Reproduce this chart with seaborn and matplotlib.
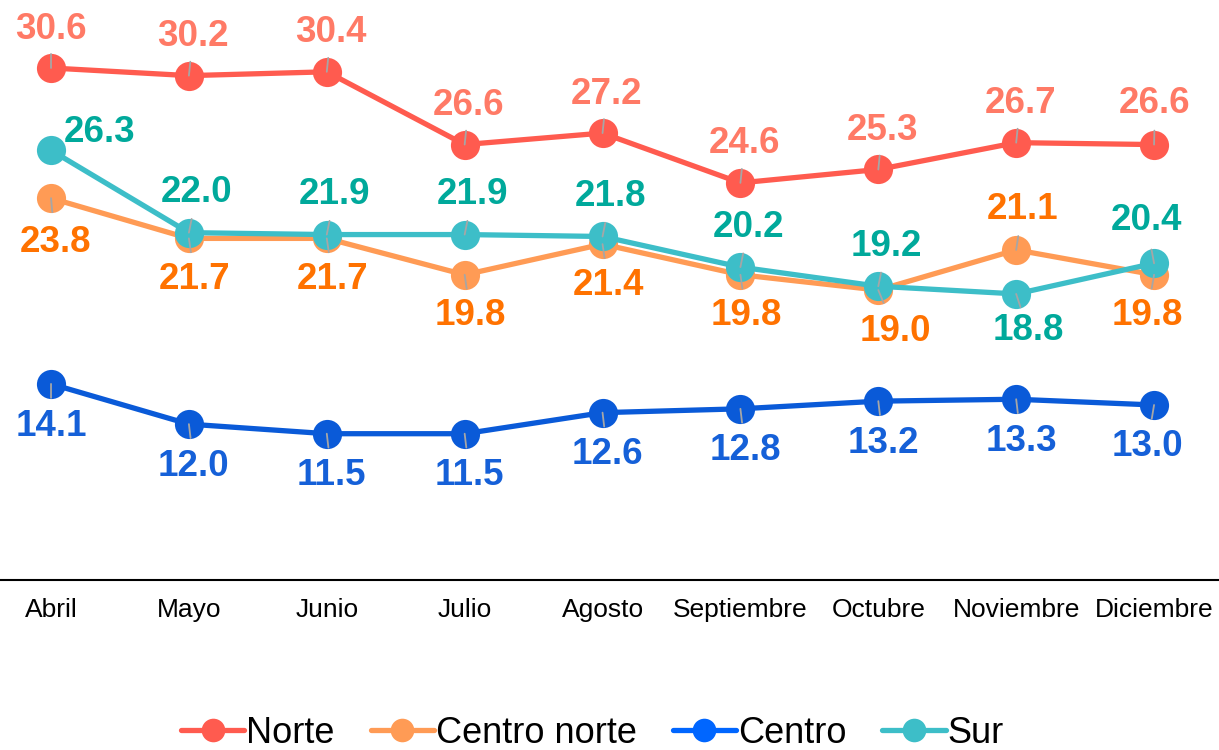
import numpy as np
import pandas as pd
import matplotlib
matplotlib.use("Agg")
import matplotlib.pyplot as plt
from matplotlib.lines import Line2D
import seaborn as sns

meses = ["Abril", "Mayo", "Junio", "Julio", "Agosto", "Septiembre",
         "Octubre", "Noviembre", "Diciembre"]
regiones = ["Norte", "Centro norte", "Centro", "Sur"]
norte = [30.6, 30.2, 30.4, 26.6, 27.2, 24.6, 25.3, 26.7, 26.6]
centro_norte = [23.8, 21.7, 21.7, 19.8, 21.4, 19.8, 19.0, 21.1, 19.8]
centro = [14.1, 12.0, 11.5, 11.5, 12.6, 12.8, 13.2, 13.3, 13.0]
sur = [26.3, 22.0, 21.9, 21.9, 21.8, 20.2, 19.2, 18.8, 20.4]

series = {"Norte": norte, "Centro norte": centro_norte,
          "Centro": centro, "Sur": sur}

line_colors = {"Norte": "#FF5B4F", "Centro norte": "#FF9B55",
               "Centro": "#0A5AD8", "Sur": "#3DBEC8"}
legend_colors = {"Norte": "#FF5B4F", "Centro norte": "#FF9B55",
                 "Centro": "#0066FF", "Sur": "#3DBEC8"}
label_colors = {"Norte": "#FF7A66", "Centro norte": "#FF7200",
                "Centro": "#1560D8", "Sur": "#00A99B"}

# label offsets in pixels (dx, dy downward positive)
default_offset = {"Norte": (4, -39), "Centro norte": (6, 41),
                  "Centro": (5, 42), "Sur": (8, -40)}
offset_override = {
    ("Norte", 0): (0, -38),
    ("Norte", 8): (1, -41),
    ("Sur", 0): (49, -18),
    ("Sur", 7): (12, 37),
    ("Sur", 8): (-8, -43),
    ("Centro norte", 0): (4, 44),
    ("Centro norte", 6): (17, 41),
    ("Centro norte", 7): (6, -40),
    ("Centro norte", 8): (-7, 41),
    ("Centro", 0): (0, 43),
    ("Centro", 8): (-7, 42),
}

df = pd.DataFrame([
    {"idx": i, "mes": m, "region": r, "valor": series[r][i]}
    for r in regiones for i, m in enumerate(meses)
])

sns.set_theme(style="white")
plt.rcParams["font.family"] = ["Liberation Sans", "DejaVu Sans"]

fig = plt.figure(figsize=(12.19, 7.5), dpi=100)
ax = fig.add_axes([0, 170 / 750, 1, 580 / 750])

sns.lineplot(data=df, x="idx", y="valor", hue="region", hue_order=regiones,
             palette=line_colors, marker="o", markersize=21, linewidth=3.8,
             markeredgewidth=0, sort=False, legend=False, ax=ax)

for r in regiones:
    vals = series[r]
    for i, v in enumerate(vals):
        dx, dy = offset_override.get((r, i), default_offset[r])
        ax.annotate(f"{v:.1f}", xy=(i, v), xytext=(dx, -dy),
                    textcoords="offset pixels", ha="center", va="center",
                    fontsize=26.5, fontweight="bold", color=label_colors[r],
                    zorder=6)
        if abs(dx) < 30:
            n = np.hypot(dx, dy)
            lx, ly = dx / n * 14, dy / n * 14
            ax.annotate("", xy=(i, v), xytext=(lx, -ly),
                        textcoords="offset pixels",
                        arrowprops=dict(arrowstyle="-", color="#A6A6A6",
                                        lw=1.3, shrinkA=0, shrinkB=0),
                        zorder=5)

ax.set_xlim(-0.370, 8.471)
ax.set_ylim(3.86, 34.15)
ax.set_xticks(range(len(meses)))
ax.set_xticklabels(meses, fontsize=19, color="black")
ax.set_yticks([])
ax.set_xlabel("")
ax.set_ylabel("")
for s in ["top", "left", "right"]:
    ax.spines[s].set_visible(False)
ax.spines["bottom"].set_color("black")
ax.spines["bottom"].set_linewidth(1.5)
ax.tick_params(axis="x", length=0, pad=13)

handles = [Line2D([0], [0], color=legend_colors[r], lw=3.8, marker="o",
                  markersize=17, markeredgewidth=0, label=r)
           for r in regiones]
leg = fig.legend(handles=handles, loc="center", bbox_to_anchor=(0.486, 0.022),
                 ncol=4, frameon=False, fontsize=26, handlelength=1.75,
                 handletextpad=0.05, columnspacing=1.0)
for t in leg.get_texts():
    t.set_color("black")

fig.savefig("out.png", dpi=100)
